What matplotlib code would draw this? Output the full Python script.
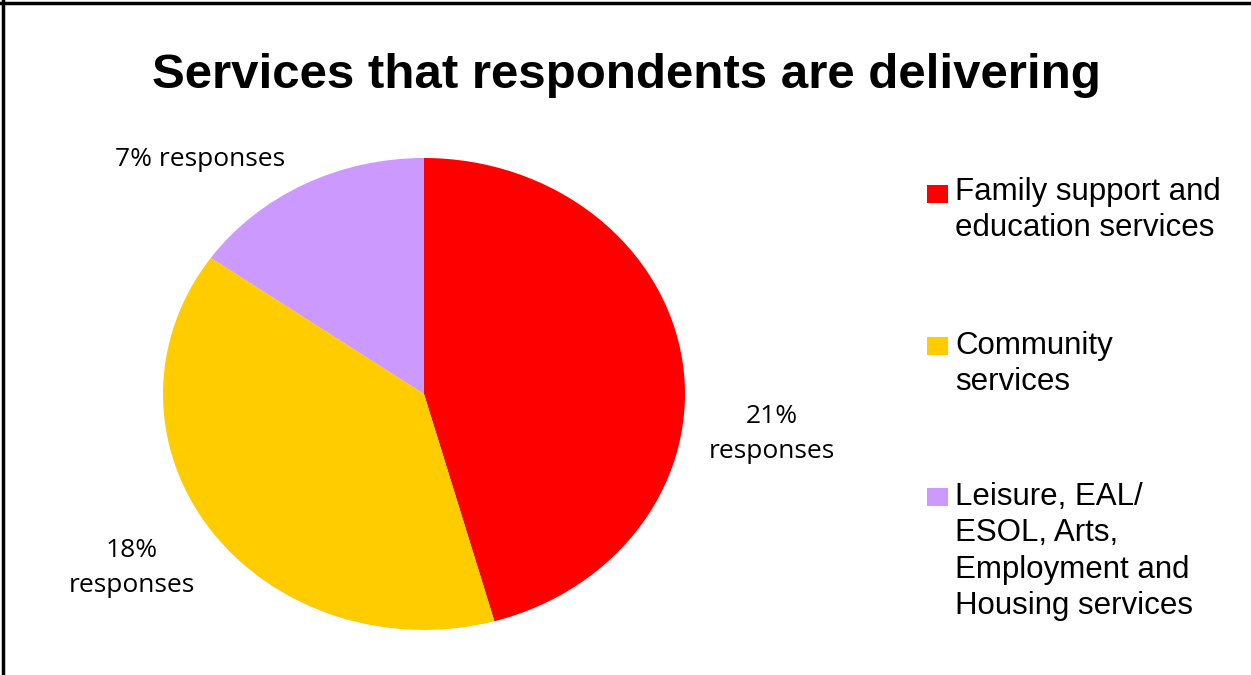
import matplotlib
matplotlib.use("Agg")
import matplotlib.pyplot as plt
from matplotlib.patches import Rectangle
from matplotlib.lines import Line2D

# share of responses per service group
categories = ["Family support and\neducation services",
              "Community\nservices",
              "Leisure, EAL/\nESOL, Arts,\nEmployment and\nHousing services"]
values = [21, 18, 7]
colors = ["#FF0000", "#FFCC00", "#CC99FF"]
slice_labels = ["21%\nresponses", "18%\nresponses", "7% responses"]

W, H = 1251, 675
fig = plt.figure(figsize=(W / 100, H / 100), dpi=100)
fig.patch.set_facecolor("white")

# pie axes - pie is drawn slightly squashed (wider than tall)
cx, cy, rx, ry = 424, 394, 261, 236
ax = fig.add_axes([(cx - rx) / W, (H - cy - ry) / H, 2 * rx / W, 2 * ry / H])
ax.pie(values, colors=colors, startangle=90, counterclock=False,
       wedgeprops=dict(linewidth=0))
ax.set_aspect("auto")
ax.set_xlim(-1, 1)
ax.set_ylim(-1, 1)
ax.axis("off")

# percentage labels around the pie
label_pos = [(772, 434), (132, 568), (200, 160)]
for txt, (px, py) in zip(slice_labels, label_pos):
    fig.text(px / W, 1 - py / H, txt, ha="center", va="center",
             fontsize=19, family="Open Sans", linespacing=1.5, color="black")

fig.text(626 / W, 1 - 75 / H, "Services that respondents are delivering",
         ha="center", va="center", fontsize=35.5, fontweight="bold",
         family="Liberation Sans")

# legend, drawn by hand so the spacing between entries can be set
leg_tops = [177, 331, 482]
box_tops = [185, 337, 488]
for lab, col, top, btop in zip(categories, colors, leg_tops, box_tops):
    fig.patches.append(Rectangle((927 / W, 1 - (btop + 18) / H), 21 / W, 18 / H,
                                 transform=fig.transFigure, facecolor=col,
                                 edgecolor="none"))
    fig.text(955 / W, 1 - top / H, lab, ha="left", va="top", fontsize=22.5,
             family="Liberation Sans", linespacing=1.28)

# frame lines along top and left edge
fig.lines.append(Line2D([3 / W, 3 / W], [0, 1], transform=fig.transFigure,
                        color="black", linewidth=2.5))
fig.lines.append(Line2D([0, 1], [1 - 3 / H, 1 - 3 / H], transform=fig.transFigure,
                        color="black", linewidth=2.5))

fig.savefig("out.png", dpi=100)
